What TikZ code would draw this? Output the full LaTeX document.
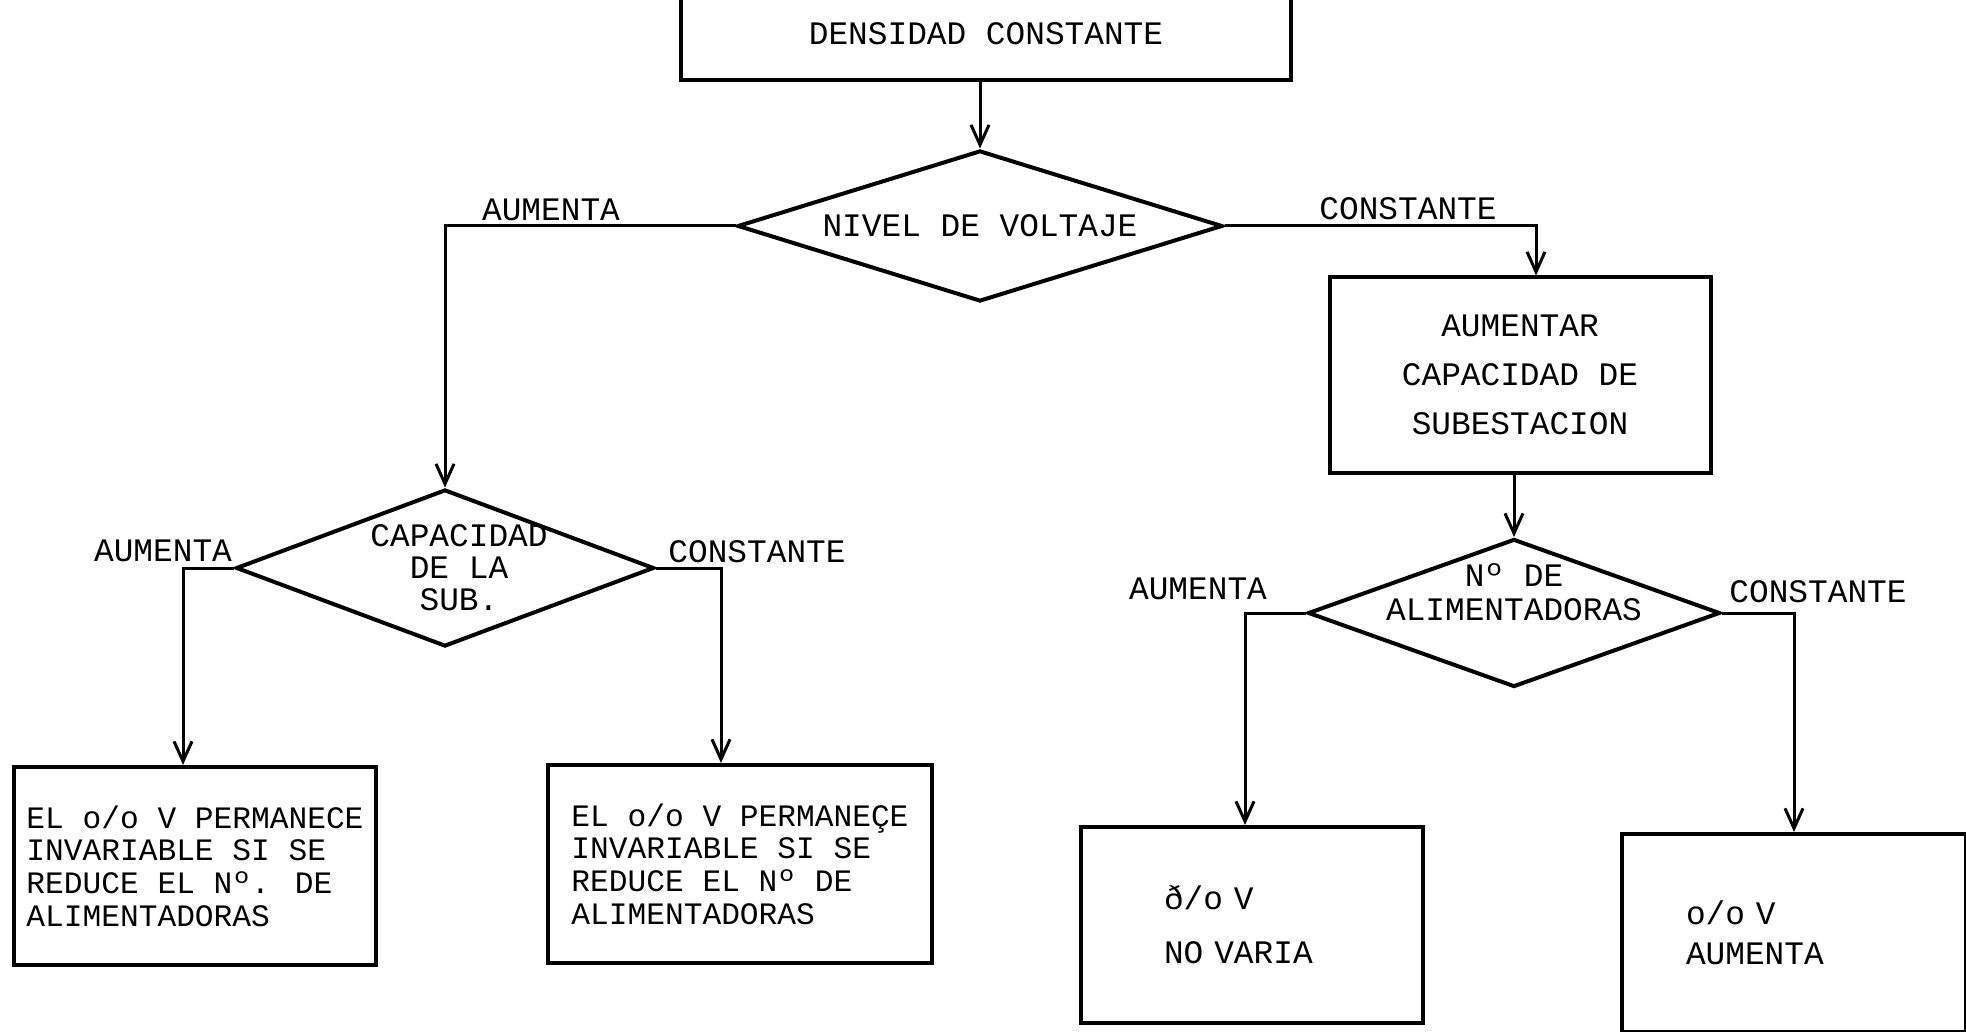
\documentclass[tikz,border=0pt]{standalone}
\usepackage{fontspec}
\setmainfont{Liberation Mono}
\usepackage{tikz}
\usetikzlibrary{positioning,shapes.geometric,arrows.meta}
\newcommand{\flowfont}{\fontsize{16.4}{16}\selectfont}
\newcommand{\notefont}{\fontsize{15.6}{16.3}\selectfont}
\tikzset{ %
  ,>={Straight Barb[length=10pt,width=9pt]}
  ,x=0.5pt, y=-0.5pt
  ,every node/.style={font=\flowfont}
  ,box/.style={draw, rectangle, line width=2pt, inner sep=0, align=center}
  ,decision/.style={draw, diamond, line width=2pt, inner sep=0, aspect=3}
  ,lbl/.style={inner sep=0, align=center}
  ,flow/.style={->, line width=1.5pt}
}

\begin{document}
\begin{tikzpicture}
  \clip (0,0) rectangle (1966,1032);
  \draw
  node[box, minimum width=305pt, minimum height=80pt,
       label={[lbl, yshift=-17pt]center:DENSIDAD CONSTANTE}] (dens) at (986,0) {}
  node[decision, minimum width=242.5pt, minimum height=75.5pt,
       label={[lbl]center:NIVEL DE VOLTAJE}] (volt) at (980,226) {}
  node[lbl] (voltA) at (551,210) {AUMENTA}
  node[lbl] (voltC) at (1408,209) {CONSTANTE}
  node[box, minimum width=190.5pt, minimum height=97.5pt] (subes) at (1520,375)
       {AUMENTAR\\[8.5pt]CAPACIDAD DE\\[8.5pt]SUBESTACION}
  node[decision, minimum width=209pt, minimum height=78.5pt,
       label={[lbl, xshift=7pt]center:CAPACIDAD\\DE LA\\SUB.}] (capa) at (445,568) {}
  node[lbl] (capaA) at (163,551) {AUMENTA}
  node[lbl] (capaC) at (757,552) {CONSTANTE}
  node[decision, minimum width=206pt, minimum height=74pt,
       label={[lbl, yshift=10.5pt]center:Nº DE\\[1pt]ALIMENTADORAS}] (alim) at (1514,613) {}
  node[lbl] (alimA) at (1198,589) {AUMENTA}
  node[lbl] (alimC) at (1818,592) {CONSTANTE}
  node[box, align=left, font=\notefont, minimum width=181pt, minimum height=99pt] (perm1) at (195,866)
       {EL o/o V PERMANECE\\INVARIABLE SI SE\\REDUCE EL Nº. DE\\ALIMENTADORAS}
  node[box, align=left, font=\notefont, minimum width=192pt, minimum height=99pt] (perm2) at (740,864)
       {EL o/o V PERMANEÇE\\INVARIABLE SI SE\\REDUCE EL Nº DE\\ALIMENTADORAS}
  node[box, align=left, text width=88pt, inner xsep=41.5pt, minimum height=98pt] (novar) at (1252,925)
       {ð/o V\\[11pt]NO VARIA}
  node[box, align=left, text width=108pt, inner xsep=32pt, minimum height=99pt] (aumv) at (1794,933)
       {o/o V\\[4pt]AUMENTA};
  % conectores
  \draw[flow] (volt.north |- dens.south) -- (volt.north);
  \draw[flow] (volt.west) -| (capa.north);
  \draw[flow] (volt.east) -| ([xshift=8pt]subes.north);
  \draw[flow] (alim.north |- subes.south) -- (alim.north);
  \draw[flow] (capa.west) -| ([xshift=-6pt]perm1.north);
  \draw[flow] (capa.east) -| ([xshift=-9.5pt]perm2.north);
  \draw[flow] (alim.west) -| ([xshift=-3.5pt]novar.north);
  \draw[flow] (alim.east) -| (aumv.north);
\end{tikzpicture}
\end{document}
